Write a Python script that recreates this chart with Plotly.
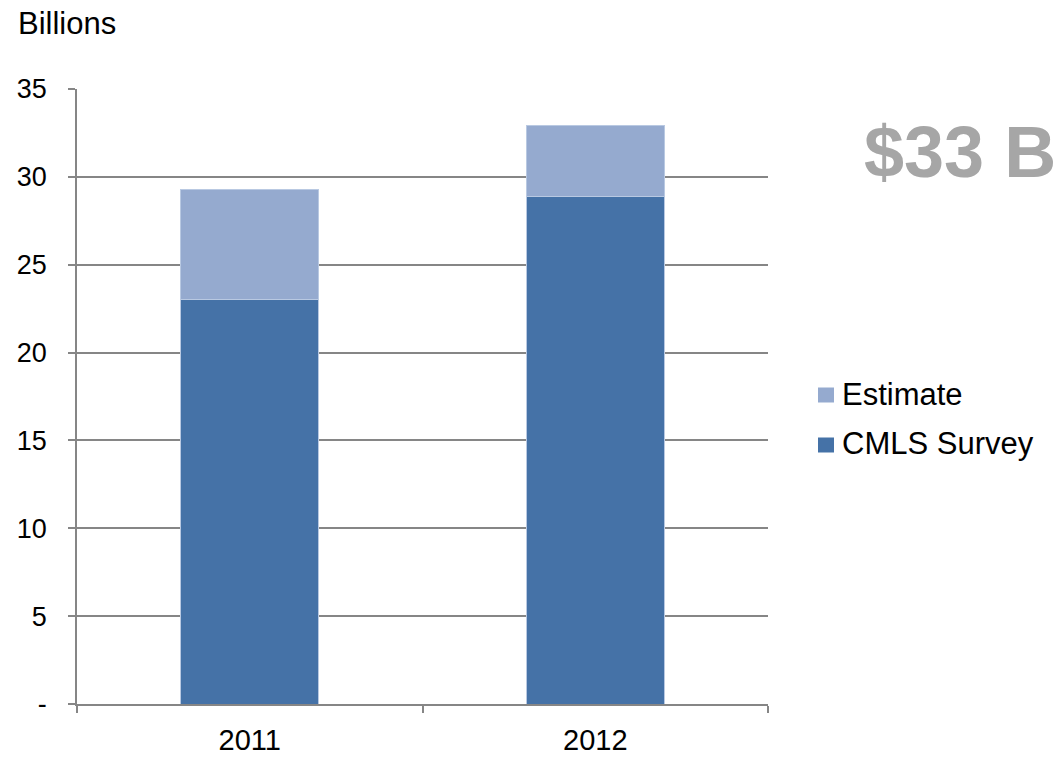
import plotly.graph_objects as go

# Annual totals, in billions of dollars
years = ["2011", "2012"]
cmls_survey = [23.0, 28.9]
estimate = [6.3, 4.05]

series_names = ["CMLS Survey", "Estimate"]
series_colors = ["#4572A7", "#95AACF"]

y_tick_values = [0, 5, 10, 15, 20, 25, 30, 35]
y_tick_labels = ["-", "5", "10", "15", "20", "25", "30", "35"]

headline = "$33 B"
unit_label = "Billions"

FONT = "Liberation Sans, Arial, sans-serif"
TXT = 31      # caption, legend
XTXT = 29     # category labels
YTXT = 27     # value axis labels

# Plot area geometry in pixels (for paper-coordinate placement)
L, R, T, B = 77, 296, 89, 53
W, H = 1064, 757
PW, PH = W - L - R, H - T - B


def px_x(px):
    return (px - L) / PW


def px_y(py):
    return (H - B - py) / PH


fig = go.Figure()
for name, vals, col in zip(series_names, [cmls_survey, estimate], series_colors):
    fig.add_trace(go.Bar(
        x=years, y=vals, name=name,
        marker=dict(color=col, line=dict(color="#B9C9E2", width=1)),
        showlegend=False,
    ))

fig.update_layout(
    barmode="stack",
    bargap=0.6,
    width=W, height=H,
    margin=dict(l=L, r=R, t=T, b=B, autoexpand=False),
    paper_bgcolor="white", plot_bgcolor="white",
    font=dict(family=FONT, size=TXT, color="black"),
)

fig.update_xaxes(
    type="category",
    automargin=False,
    showline=True, linecolor="#868686", linewidth=1.5,
    ticks="outside", tickson="boundaries", ticklen=7, tickwidth=1.5, tickcolor="#868686",
    showgrid=False,
    tickfont=dict(size=XTXT),
    ticklabelstandoff=9,
)
fig.update_yaxes(
    range=[0, 35],
    automargin=False,
    tickvals=y_tick_values, ticktext=y_tick_labels,
    showline=True, linecolor="#868686", linewidth=1.5,
    ticks="outside", ticklen=7, tickwidth=1.5, tickcolor="#868686",
    showgrid=True, gridcolor="#868686", gridwidth=1.5,
    zeroline=False,
    tickfont=dict(size=YTXT),
    ticklabelstandoff=16,
)

# Unit caption above the value axis
fig.add_annotation(
    text=unit_label, xref="paper", yref="paper", x=px_x(16), y=px_y(24),
    xanchor="left", yanchor="middle",
    showarrow=False, font=dict(size=TXT),
)

# Headline total
fig.add_annotation(
    text="<b>%s</b>" % headline, xref="paper", yref="paper", x=px_x(862), y=px_y(152),
    xanchor="left", yanchor="middle",
    showarrow=False, font=dict(size=72, color="#A6A6A6"),
)

# Legend: top series listed first
legend_rows = list(zip(series_names, series_colors))[::-1]
for i, (name, col) in enumerate(legend_rows):
    yc = 395 + i * 50
    fig.add_shape(
        type="rect", xref="paper", yref="paper",
        x0=px_x(818), x1=px_x(834), y0=px_y(yc + 7.5), y1=px_y(yc - 7.5),
        fillcolor=col, line=dict(width=0),
    )
    fig.add_annotation(
        text=name, xref="paper", yref="paper", x=px_x(840), y=px_y(yc - 1),
        xanchor="left", yanchor="middle", showarrow=False,
        font=dict(size=TXT),
    )

fig.write_html("out.html")
